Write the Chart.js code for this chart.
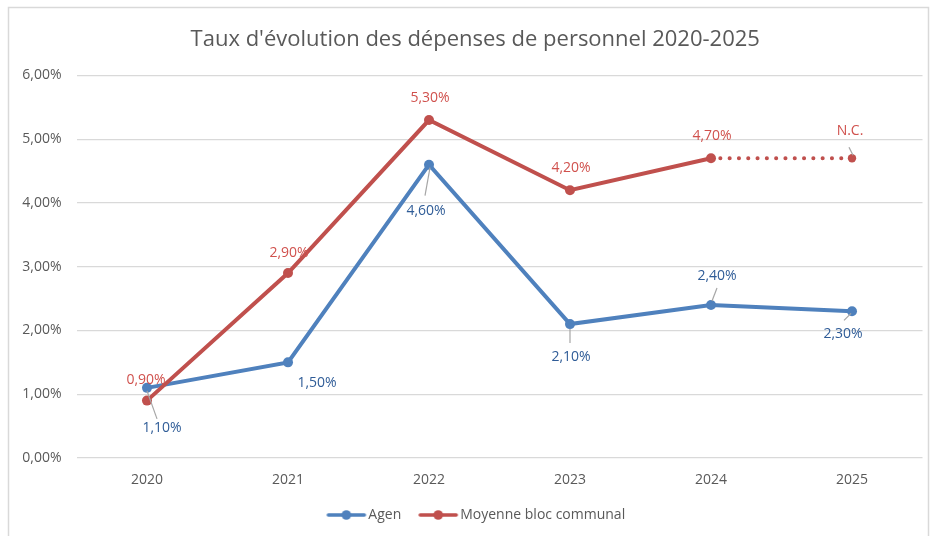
<!DOCTYPE html>
<html>
<head>
<meta charset="utf-8">
<script src="https://cdn.jsdelivr.net/npm/chart.js@4/dist/chart.umd.min.js"></script>
<style>
  html, body { margin: 0; padding: 0; background: #ffffff; }
  #wrap { width: 930px; height: 536px; position: relative; }
</style>
</head>
<body>
<div id="wrap"><canvas id="c" width="930" height="536"></canvas></div>
<script>
const categories = ["2020", "2021", "2022", "2023", "2024", "2025"];
const agenValues = [1.1, 1.5, 4.6, 2.1, 2.4, 2.3];
const moyenneValues = [0.9, 2.9, 5.3, 4.2, 4.7, 4.7];
const agenLabels = ["1,10%", "1,50%", "4,60%", "2,10%", "2,40%", "2,30%"];
const moyenneLabels = ["0,90%", "2,90%", "5,30%", "4,20%", "4,70%", "N.C."];
const yTickLabels = ["0,00%", "1,00%", "2,00%", "3,00%", "4,00%", "5,00%", "6,00%"];
const seriesNames = ["Agen", "Moyenne bloc communal"];
const titleText = "Taux d'évolution des dépenses de personnel 2020-2025";

const FONT = "'Open Sans', sans-serif";
const BLUE = "#4F81BD";
const RED = "#C0504D";
const BLUE_LABEL = "#2F5C97";
const RED_LABEL = "#D0514D";
const GRAY_TEXT = "#595959";

// label placement (offsets from the point, in px) and leader lines
const labelStyle = [
  {
    color: BLUE_LABEL,
    offsets: [[15, 40], [29, 21], [-3, 46], [1, 33], [6, -29], [-9, 23]],
    leaders: [[0, 3, 10, 31], null, [1, 3, -4, 31], [0, 5, 0, 19], [1, -4, 6, -17], [-1, 2, -8, 9]]
  },
  {
    color: RED_LABEL,
    offsets: [[-1, -21], [1, -20], [1, -22], [1, -22], [1, -22], [-2, -27]],
    leaders: [null, null, null, null, null, [-3, -11, 1, -3]]
  }
];
const seriesText = [agenLabels, moyenneLabels];

function legendImage(color) {
  const cv = document.createElement('canvas');
  cv.width = 42; cv.height = 12;
  const g = cv.getContext('2d');
  g.strokeStyle = color; g.lineWidth = 3.5; g.lineCap = 'round';
  g.beginPath(); g.moveTo(3, 6); g.lineTo(39, 6); g.stroke();
  g.fillStyle = color;
  g.beginPath(); g.arc(21, 6, 4.8, 0, Math.PI * 2); g.fill();
  return cv;
}
const legendImgs = [legendImage(BLUE), legendImage(RED)];

const framePlugin = {
  id: 'frame',
  afterLayout(chart) {
    if (chart.legend) { chart.legend.left += 17; chart.legend.right += 17; }
    if (chart.titleBlock) { chart.titleBlock.left += 14; chart.titleBlock.right += 14; }
  },
  beforeDraw(chart) {
    const ctx = chart.ctx;
    ctx.save();
    ctx.fillStyle = '#ffffff';
    ctx.fillRect(0, 0, chart.width, chart.height);
    ctx.strokeStyle = '#d9d9d9';
    ctx.lineWidth = 1.5;
    ctx.strokeRect(8.5, 7.5, 920, 545);
    ctx.restore();
  }
};

const labelPlugin = {
  id: 'pointLabels',
  afterDatasetsDraw(chart) {
    const ctx = chart.ctx;
    ctx.save();
    chart.data.datasets.forEach((ds, di) => {
      const meta = chart.getDatasetMeta(di);
      const st = labelStyle[di];
      meta.data.forEach((pt, i) => {
        const ld = st.leaders[i];
        if (ld) {
          ctx.strokeStyle = '#a6a6a6';
          ctx.lineWidth = 1.2;
          ctx.beginPath();
          ctx.moveTo(pt.x + ld[0], pt.y + ld[1]);
          ctx.lineTo(pt.x + ld[2], pt.y + ld[3]);
          ctx.stroke();
        }
      });
    });
    chart.data.datasets.forEach((ds, di) => {
      const meta = chart.getDatasetMeta(di);
      const st = labelStyle[di];
      ctx.font = "14px " + FONT;
      ctx.textAlign = 'center';
      ctx.textBaseline = 'middle';
      ctx.fillStyle = st.color;
      meta.data.forEach((pt, i) => {
        const off = st.offsets[i];
        ctx.fillText(seriesText[di][i], pt.x + off[0], pt.y + off[1]);
      });
    });
    ctx.restore();
  }
};

new Chart(document.getElementById('c'), {
  type: 'line',
  data: {
    labels: categories,
    datasets: [
      {
        label: seriesNames[0],
        data: agenValues,
        borderColor: BLUE,
        backgroundColor: BLUE,
        borderWidth: 4,
        pointRadius: 5,
        pointHoverRadius: 5,
        pointBackgroundColor: BLUE,
        pointBorderColor: BLUE,
        pointBorderWidth: 0,
        tension: 0,
        order: 1
      },
      {
        label: seriesNames[1],
        data: moyenneValues,
        borderColor: RED,
        backgroundColor: RED,
        borderWidth: 4,
        pointRadius: (c) => c.dataIndex === 5 ? 4.2 : 5,
        pointHoverRadius: 5,
        pointBackgroundColor: RED,
        pointBorderColor: RED,
        pointBorderWidth: 0,
        tension: 0,
        order: 0,
        segment: {
          borderDash: (c) => c.p1DataIndex === 5 ? [0.1, 9.2] : undefined,
          borderCapStyle: (c) => c.p1DataIndex === 5 ? 'round' : 'butt'
        }
      }
    ]
  },
  options: {
    responsive: false,
    animation: false,
    layout: { padding: { left: 0, right: 7.5, top: 0, bottom: 4 } },
    scales: {
      x: {
        grid: { display: false, drawTicks: false },
        border: { display: false },
        offset: true,
        ticks: { color: GRAY_TEXT, font: { family: FONT, size: 14 }, padding: 14 },
        afterFit(scale) { scale.height = 28; }
      },
      y: {
        min: 0,
        max: 6,
        grid: { color: '#d9d9d9', lineWidth: 1.3, drawTicks: false },
        border: { display: false },
        ticks: {
          stepSize: 1,
          color: GRAY_TEXT,
          font: { family: FONT, size: 14 },
          padding: 15,
          callback: (v) => yTickLabels[Math.round(v)]
        },
        afterFit(scale) { scale.width = 76.5; }
      }
    },
    plugins: {
      title: {
        display: true,
        text: titleText,
        color: GRAY_TEXT,
        font: { family: FONT, size: 22, weight: 'normal' },
        padding: { top: 27, bottom: 22 }
      },
      legend: {
        display: true,
        position: 'bottom',
        labels: {
          color: GRAY_TEXT,
          font: { family: FONT, size: 14 },
          usePointStyle: true,
          pointStyleWidth: 30,
          padding: 22,
          sort: (a, b) => a.datasetIndex - b.datasetIndex,
          generateLabels(chart) {
            const items = Chart.defaults.plugins.legend.labels.generateLabels(chart);
            items.forEach(it => { it.pointStyle = legendImgs[it.datasetIndex]; });
            return items;
          }
        }
      },
      tooltip: { enabled: false }
    }
  },
  plugins: [framePlugin, labelPlugin]
});
</script>
</body>
</html>
